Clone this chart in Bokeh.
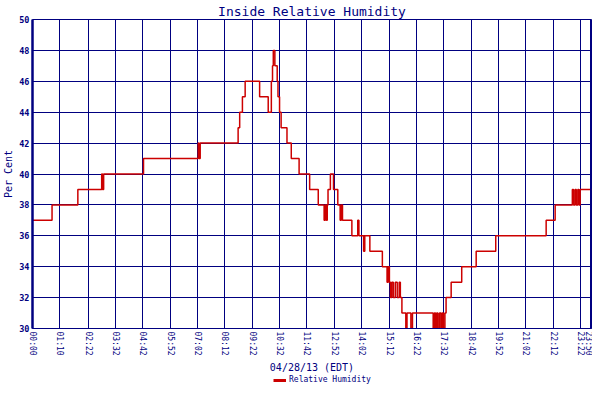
from bokeh.plotting import figure
from bokeh.layouts import column
from bokeh.models import FixedTicker, Legend, LegendItem, Range1d, Span
from bokeh.embed import file_html
from bokeh.resources import INLINE

title_text = "Inside Relative Humidity"
x_label = "04/28/13 (EDT)"
y_label = "Per Cent"
series_name = "Relative Humidity"

tick_minutes = [0, 70, 142, 212, 282, 352, 422, 492, 562, 632, 702, 772,
                842, 912, 982, 1052, 1122, 1192, 1262, 1332, 1402, 1430]
tick_labels = ["00:00", "01:10", "02:22", "03:32", "04:42", "05:52", "07:02",
               "08:12", "09:22", "10:32", "11:42", "12:52", "14:02", "15:12",
               "16:22", "17:32", "18:42", "19:52", "21:02", "22:12", "23:22",
               "23:50"]
y_ticks = [30, 32, 34, 36, 38, 40, 42, 44, 46, 48, 50]

# minutes after midnight where the reading changes, and the new reading (%)
rh_minutes = [0, 50, 116, 177, 179, 182, 284, 424, 426, 429,
              526, 530, 537, 544, 581, 603, 611, 614, 616, 620, 626, 628,
              632, 636, 651, 662, 682, 709, 731, 746, 749, 752, 754, 756,
              762, 770, 781, 787, 790, 793, 817, 832, 835, 847, 850, 863,
              895, 907, 910, 913, 916, 919, 923, 928, 933, 938,
              941, 945, 955, 958, 968, 972, 1025, 1028, 1031, 1034, 1037,
              1041, 1045, 1048, 1051, 1055, 1058, 1071, 1098,
              1135, 1185, 1314, 1337, 1381, 1384, 1388, 1391, 1395, 1398,
              1401, 1430]
rh_values = [37, 38, 39, 40, 39, 40, 41, 42, 41, 42,
             43, 44, 45, 46, 45, 44, 46, 47, 48, 47, 46, 45,
             44, 43, 42, 41, 40, 39, 38, 37, 38, 37, 38, 39,
             40, 39, 38, 37, 38, 37, 36, 37, 36, 35, 36, 35,
             34, 33, 34, 33, 32, 33, 32, 33, 32, 33,
             32, 31, 30, 31, 30, 31, 30, 31, 30, 31, 30,
             31, 30, 31, 30, 31, 32, 33, 34,
             35, 36, 37, 38, 39, 38, 39, 38, 39, 38,
             39, 39]

NAVY = "#000080"
RED = "#cc0000"
FONT = "DejaVu Sans Mono"

x_start, x_end = tick_minutes[0], tick_minutes[-1]

p = figure(width=592, height=375, output_backend="svg", toolbar_location=None,
           x_range=Range1d(x_start, x_end), y_range=Range1d(y_ticks[0], y_ticks[-1]),
           min_border_left=0, min_border_right=1, min_border_top=0, min_border_bottom=0)

p.title.text = title_text
p.title.align = "center"
p.title.text_color = NAVY
p.title.text_font = FONT
p.title.text_font_size = "13px"
p.title.text_font_style = "normal"
p.title.standoff = 2
p.title.offset = 0

r = p.step(rh_minutes, rh_values, mode="after", line_color=RED, line_width=1.5)

# axes
p.xaxis.ticker = FixedTicker(ticks=tick_minutes)
p.xaxis.major_label_overrides = {t: l for t, l in zip(tick_minutes, tick_labels)}
p.xaxis.major_label_orientation = "vertical"
p.yaxis.ticker = FixedTicker(ticks=y_ticks)

for ax in (p.xaxis[0], p.yaxis[0]):
    ax.axis_line_color = NAVY
    ax.major_tick_line_color = None
    ax.minor_tick_line_color = None
    ax.major_tick_out = 0
    ax.major_tick_in = 0
    ax.major_label_text_color = NAVY
    ax.major_label_text_font = FONT
    ax.axis_label_text_color = NAVY
    ax.axis_label_text_font = FONT
    ax.axis_label_text_font_style = "normal"

p.xaxis.major_label_text_font_size = "8px"
p.xaxis.major_label_standoff = 3
p.xaxis.axis_label = x_label
p.xaxis.axis_label_text_font_size = "10px"
p.xaxis.axis_label_standoff = 3
p.xaxis.axis_line_width = 1

p.yaxis.major_label_text_font_size = "8.5px"
p.yaxis.major_label_text_font_style = "bold"
p.yaxis.major_label_standoff = 3
p.yaxis.axis_label = y_label
p.yaxis.axis_label_text_font_size = "10px"
p.yaxis.axis_label_standoff = 2
p.yaxis.axis_line_width = 2.5

p.xgrid.grid_line_color = NAVY
p.ygrid.grid_line_color = NAVY
p.xgrid.grid_line_width = 1
p.ygrid.grid_line_width = 1
p.xgrid.ticker = FixedTicker(ticks=tick_minutes)
p.ygrid.ticker = FixedTicker(ticks=y_ticks)

p.outline_line_color = NAVY
p.outline_line_width = 1
p.add_layout(Span(location=x_end, dimension="height", line_color=NAVY, line_width=3))

p.background_fill_color = "white"
p.border_fill_color = "white"

# legend strip under the chart (thicker swatch like the original)
leg = figure(width=592, height=9, output_backend="svg", toolbar_location=None,
             title=None, x_range=Range1d(0, 1), y_range=Range1d(0, 1),
             min_border_left=0, min_border_right=0, min_border_top=0,
             min_border_bottom=0)
leg.axis.visible = False
leg.grid.visible = False
leg.outline_line_color = None
leg.background_fill_color = "white"
leg.border_fill_color = "white"
# one-point proxy line: draws nothing itself, only gives the legend its swatch
swatch = leg.line(x=[rh_minutes[0]], y=[rh_values[0]], line_color=RED, line_width=3)
legend = Legend(items=[LegendItem(label=series_name, renderers=[swatch])],
                location=(241, 0), orientation="horizontal",
                label_text_font=FONT, label_text_font_size="8px",
                label_text_color=NAVY, glyph_width=13, glyph_height=8,
                label_standoff=3, padding=0, margin=0, spacing=0,
                label_height=8, border_line_alpha=0, background_fill_alpha=0)
leg.add_layout(legend)

open("out.html", "w").write(file_html(column(p, leg), INLINE))
